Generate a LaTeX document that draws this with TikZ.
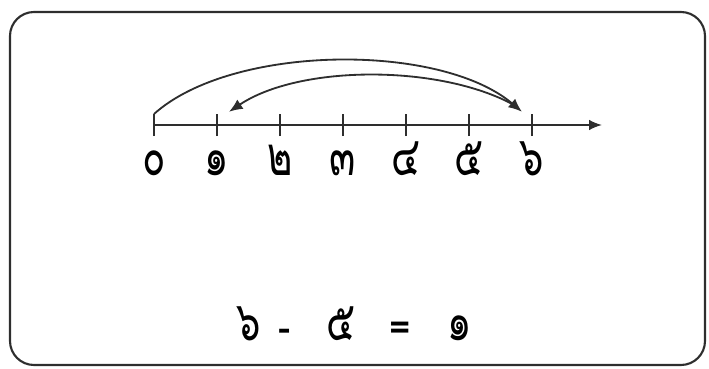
\documentclass[tikz,border=0pt]{standalone}
\usepackage{fontspec}
\newfontfamily\thaifont[Script=Thai]{Loma}
\usetikzlibrary{arrows.meta,calc}
\definecolor{lineink}{HTML}{2E2E2E}
\newcommand{\tallnum}[1]{\scalebox{1.05}[1.5]{#1}}

\begin{document}
\begin{tikzpicture}[
  font=\thaifont\fontsize{26}{30}\selectfont,
  frame/.style={draw=lineink,line width=1.5pt,rounded corners=0.6cm},
  tick/.style={draw=lineink,line width=1.1pt},
  axis/.style={-{Latex[length=3.2mm,width=2.6mm]},draw=lineink,line width=1.2pt},
  jump/.style={-{Latex[length=3.4mm,width=2.8mm]},draw=lineink,line width=1.3pt},
  digit/.style={inner sep=0pt,anchor=base},
]
\useasboundingbox (0,0) rectangle (17.725,9.2);
\draw[frame] (0.25,0.075) rectangle (17.625,8.9);
% number line
\coordinate (o) at (3.85,6.075);
\coordinate (e) at (15.05,6.075);
\draw[axis] (o) -- (e);
\foreach \i/\d in {0/๐,1/๑,2/๒,3/๓,4/๔,5/๕,6/๖}{
  \coordinate (t\i) at ($(o)+(\i*1.575,0)$);
  \draw[tick] ($(t\i)+(0,-0.275)$) -- ($(t\i)+(0,0.275)$);
  \node[digit] (n\i) at ($(t\i)+(0,-1.25)$) {\tallnum{\d}};
}
% jumps
\coordinate (a0) at ($(t0)+(0,0.275)$);
\coordinate (a6) at ($(t6)+(-0.25,0.33)$);
\coordinate (b6) at ($(t6)+(-0.45,0.5)$);
\coordinate (b1) at ($(t1)+(0.3,0.33)$);
\draw[jump] (a0) .. controls (5.8,8.1) and (11.0,8.14) .. (a6);
\draw[jump] (b6) .. controls (11.0,7.59) and (7.5,7.59) .. (b1);
% equation
\node[inner sep=0pt,anchor=base] (eq) at (8.85,0.7) {\tallnum{๖}\hspace{0.45cm}\textbf{-}\hspace{0.9cm}\tallnum{๕}\hspace{0.85cm}\textbf{=}\hspace{0.9cm}\tallnum{๑}};
\end{tikzpicture}
\end{document}
